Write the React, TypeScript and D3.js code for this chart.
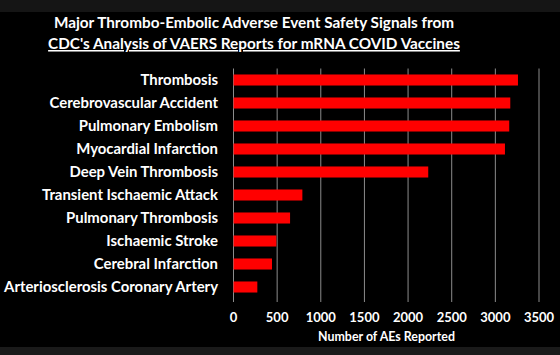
import React from "react";
import * as d3 from "d3";

const categories = [
  "Thrombosis",
  "Cerebrovascular Accident",
  "Pulmonary Embolism",
  "Myocardial Infarction",
  "Deep Vein Thrombosis",
  "Transient Ischaemic Attack",
  "Pulmonary Thrombosis",
  "Ischaemic Stroke",
  "Cerebral Infarction",
  "Arteriosclerosis Coronary Artery",
];
const values = [3259, 3171, 3159, 3110, 2231, 789, 648, 491, 441, 273];
const xTicks = [0, 500, 1000, 1500, 2000, 2500, 3000, 3500];
const titleLines = [
  "Major Thrombo-Embolic Adverse Event Safety Signals from",
  "CDC's Analysis of VAERS Reports for mRNA COVID Vaccines",
];
const xTitle = "Number of AEs Reported";

const W = 560;
const H = 355;
const FONT = "Lato, 'Open Sans', sans-serif";

export default function App() {
  const x = d3.scaleLinear().domain([0, 3500]).range([233.5, 539]);
  const y = d3
    .scaleBand<string>()
    .domain(categories)
    .range([68.5, 298.5])
    .paddingInner(0.52)
    .paddingOuter(0.26);

  return (
    <div style={{ position: "fixed", left: 0, top: 0, width: W, height: H }}>
      <svg width={W} height={H} style={{ display: "block" }}>
        <rect x={0} y={0} width={W} height={H} fill="#000" />
        <rect x={0} y={0} width={W} height={12} fill="#151515" />
        <rect x={0} y={347} width={W} height={8} fill="#1a1a1a" />
        {titleLines.map((t, i) => (
          <text
            key={i}
            x={254}
            y={28 + i * 21}
            textAnchor="middle"
            fill="#fff"
            fontFamily={FONT}
            fontWeight="bold"
            fontSize={15.3}
            textDecoration={i === 1 ? "underline" : undefined}
          >
            {t}
          </text>
        ))}
        {xTicks.map((t) => (
          <g key={t}>
            <line
              x1={x(t)}
              x2={x(t)}
              y1={68.5}
              y2={302}
              stroke="#8c8c8c"
              strokeWidth={1}
            />
            <text
              x={x(t)}
              y={321.5}
              textAnchor="middle"
              fill="#fff"
              fontFamily={FONT}
              fontWeight="bold"
              fontSize={13}
            >
              {t}
            </text>
          </g>
        ))}
        {categories.map((c, i) => (
          <g key={c}>
            <rect
              x={x(0)}
              y={y(c)!}
              width={x(values[i]) - x(0)}
              height={y.bandwidth()}
              fill="#ff0000"
            />
            <text
              x={218}
              y={y(c)! + y.bandwidth() / 2}
              dy="0.36em"
              textAnchor="end"
              fill="#fff"
              fontFamily={FONT}
              fontWeight="bold"
              fontSize={14.9}
            >
              {c}
            </text>
          </g>
        ))}
        <text
          x={386.5}
          y={341}
          textAnchor="middle"
          fill="#fff"
          fontFamily={FONT}
          fontWeight="bold"
          fontSize={12.4}
        >
          {xTitle}
        </text>
      </svg>
    </div>
  );
}
